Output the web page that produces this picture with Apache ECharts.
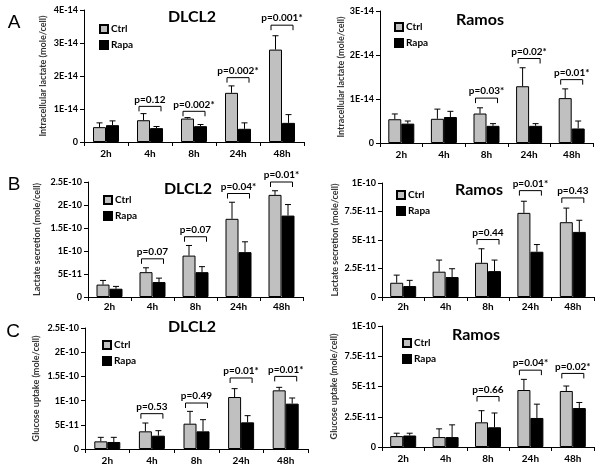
<!DOCTYPE html>
<html><head><meta charset="utf-8">
<script src="https://cdn.jsdelivr.net/npm/echarts@6/dist/echarts.min.js"></script>
<style>html,body{margin:0;padding:0;background:#fff}#c{width:601px;height:472px}</style>
</head><body><div id="c"></div>
<script>
const categories = ['2h','4h','8h','24h','48h'];

// A: intracellular lactate (unit 1E-14 mole/cell)
const dlcl2IntraCtrl = [0.45,0.66,0.71,1.49,2.80];
const dlcl2IntraCtrlSd = [0.13,0.20,0.03,0.21,0.42];
const dlcl2IntraRapa = [0.51,0.42,0.48,0.40,0.58];
const dlcl2IntraRapaSd = [0.13,0.05,0.05,0.18,0.25];
const dlcl2IntraP = [[1,1.08,'p=0.12'],[2,0.93,'p=0.002*'],[3,1.95,'p=0.002*'],[4,3.54,'p=0.001*']];
const ramosIntraCtrl = [0.54,0.55,0.67,1.29,1.02];
const ramosIntraCtrlSd = [0.12,0.22,0.13,0.42,0.21];
const ramosIntraRapa = [0.44,0.59,0.39,0.39,0.33];
const ramosIntraRapaSd = [0.06,0.13,0.05,0.05,0.17];
const ramosIntraP = [[2,1.02,'p=0.03*'],[3,1.92,'p=0.02*'],[4,1.44,'p=0.01*']];
const ticksIntraDLCL2 = ['0','1E-14','2E-14','3E-14','4E-14'];
const ticksIntraRamos = ['0','1E-14','2E-14','3E-14'];

// B: lactate secretion (unit 1E-11 mole/cell)
const dlcl2SecCtrl = [2.7,5.4,9.0,17.0,22.2];
const dlcl2SecCtrlSd = [0.9,0.95,2.2,3.6,0.9];
const dlcl2SecRapa = [1.8,3.25,5.4,9.75,17.7];
const dlcl2SecRapaSd = [0.5,0.85,1.2,2.25,2.4];
const dlcl2SecP = [[1,8.3,'p=0.07'],[2,13.1,'p=0.07'],[3,22.5,'p=0.04*'],[4,25.0,'p=0.01*']];
const ramosSecCtrl = [1.25,2.22,3.0,7.38,6.56];
const ramosSecCtrlSd = [0.67,1.02,1.23,1.02,1.24];
const ramosSecRapa = [0.96,1.75,2.27,3.97,5.71];
const ramosSecRapaSd = [0.5,0.73,0.97,0.63,1.02];
const ramosSecP = [[2,5.04,'p=0.44'],[3,9.33,'p=0.01*'],[4,8.69,'p=0.43']];
const ticksSecDLCL2 = ['0','5E-11','1E-10','1.5E-10','2E-10','2.5E-10'];
const ticksSecRamos = ['0','2.5E-11','5E-11','7.5E-11','1E-10'];

// C: glucose uptake (unit 1E-11 mole/cell)
const dlcl2GluCtrl = [1.58,3.65,5.23,10.74,12.12];
const dlcl2GluCtrlSd = [0.83,1.72,2.55,1.73,0.62];
const dlcl2GluRapa = [1.45,2.75,3.65,5.51,9.37];
const dlcl2GluRapaSd = [0.96,1.04,2.41,1.38,1.17];
const dlcl2GluP = [[1,7.3,'p=0.53'],[2,9.5,'p=0.49'],[3,14.67,'p=0.01*'],[4,15.0,'p=0.01*']];
const ramosGluCtrl = [0.9,0.82,2.04,4.71,4.63];
const ramosGluCtrlSd = [0.24,0.68,0.96,0.88,0.41];
const ramosGluRapa = [0.95,0.82,1.63,2.4,3.22];
const ramosGluRapaSd = [0.19,1.01,1.18,1.14,0.46];
const ramosGluP = [[2,4.17,'p=0.66'],[3,6.35,'p=0.04*'],[4,6.08,'p=0.02*']];
const ticksGluDLCL2 = ['0','5E-11','1E-10','1.5E-10','2E-10','2.5E-10'];
const ticksGluRamos = ['0','2.5E-11','5E-11','7.5E-11','1E-10'];

const FONT = 'Lato';
const BW = 13;

const panels = [
  {g:{left:84,top:10,width:220,height:132}, max:4, iv:1, ticks:ticksIntraDLCL2, yName:'Intracellular lactate (mole/cell)', gap:36, lm:7,
   ctrl:dlcl2IntraCtrl, ctrlSd:dlcl2IntraCtrlSd, rapa:dlcl2IntraRapa, rapaSd:dlcl2IntraRapaSd, p:dlcl2IntraP,
   title:'DLCL2', tx:192, ty:17, leg:[99,24], letter:'A', lx:14, ly:23},
  {g:{left:380,top:11,width:213,height:132}, max:3, iv:1, ticks:ticksIntraRamos, yName:'Intracellular lactate (mole/cell)', gap:33, lm:7,
   ctrl:ramosIntraCtrl, ctrlSd:ramosIntraCtrlSd, rapa:ramosIntraRapa, rapaSd:ramosIntraRapaSd, p:ramosIntraP,
   title:'Ramos', tx:480, ty:20, leg:[394,22]},
  {g:{left:88,top:182,width:215,height:115}, max:25, iv:5, ticks:ticksSecDLCL2, yName:'Lactate secretion (mole/cell)', gap:46, lm:5,
   ctrl:dlcl2SecCtrl, ctrlSd:dlcl2SecCtrlSd, rapa:dlcl2SecRapa, rapaSd:dlcl2SecRapaSd, p:dlcl2SecP,
   title:'DLCL2', tx:188, ty:189, leg:[103,195], letter:'B', lx:14, ly:185},
  {g:{left:382,top:183,width:212,height:114}, max:10, iv:2.5, ticks:ticksSecRamos, yName:'Lactate secretion (mole/cell)', gap:42, lm:5,
   ctrl:ramosSecCtrl, ctrlSd:ramosSecCtrlSd, rapa:ramosSecRapa, rapaSd:ramosSecRapaSd, p:ramosSecP,
   title:'Ramos', tx:479, ty:190, leg:[396,190]},
  {g:{left:85,top:328,width:223,height:121}, max:25, iv:5, ticks:ticksGluDLCL2, yName:'Glucose uptake (mole/cell)', gap:44, lm:7,
   ctrl:dlcl2GluCtrl, ctrlSd:dlcl2GluCtrlSd, rapa:dlcl2GluRapa, rapaSd:dlcl2GluRapaSd, p:dlcl2GluP,
   title:'DLCL2', tx:192, ty:327, leg:[102,340], letter:'C', lx:13, ly:332},
  {g:{left:382,top:326,width:212,height:121}, max:10, iv:2.5, ticks:ticksGluRamos, yName:'Glucose uptake (mole/cell)', gap:43, lm:7,
   ctrl:ramosGluCtrl, ctrlSd:ramosGluCtrlSd, rapa:ramosGluRapa, rapaSd:ramosGluRapaSd, p:ramosGluP,
   title:'Ramos', tx:476, ty:335, leg:[402,338]}
];

const option = {animation:false, backgroundColor:'#fff', grid:[], xAxis:[], yAxis:[], series:[], legend:[], graphic:[]};

function errRender(params, api){
  const i = api.value(0);
  const a = api.coord([i, api.value(1)]);
  const b = api.coord([i, api.value(2)]);
  const x = a[0] + api.value(3) * BW / 2;
  return {type:'group', children:[
    {type:'line', shape:{x1:x, y1:a[1], x2:x, y2:b[1]}, style:{stroke:'#000', lineWidth:1}},
    {type:'line', shape:{x1:x-3, y1:b[1], x2:x+3, y2:b[1]}, style:{stroke:'#000', lineWidth:1}}
  ]};
}

panels.forEach((P, k) => {
  option.grid.push(Object.assign({containLabel:false}, P.g));
  option.xAxis.push({type:'category', gridIndex:k, data:categories, boundaryGap:true,
    axisLine:{lineStyle:{color:'#000', width:1}},
    axisTick:{show:true, length:4, lineStyle:{color:'#000'}},
    axisLabel:{color:'#000', fontSize:10, fontWeight:'bold', fontFamily:FONT, margin:P.lm},
    splitLine:{show:false}});
  option.yAxis.push({type:'value', gridIndex:k, min:0, max:P.max, interval:P.iv,
    name:P.yName, nameLocation:'middle', nameGap:P.gap, nameRotate:90,
    nameTextStyle:{fontSize:9, fontWeight:'bold', fontFamily:FONT, color:'#333'},
    axisLine:{show:true, lineStyle:{color:'#000', width:1}},
    axisTick:{show:true, length:4, lineStyle:{color:'#000'}},
    axisLabel:{color:'#000', fontSize:9, fontWeight:'bold', fontFamily:FONT, margin:6,
      formatter:(v)=>P.ticks[Math.round(v/P.iv)]},
    splitLine:{show:false}});
  option.series.push({name:'Ctrl', type:'bar', xAxisIndex:k, yAxisIndex:k, data:P.ctrl, barWidth:BW, barGap:'0%',
    itemStyle:{color:'#c0c0c0', borderColor:'#000', borderWidth:1}});
  option.series.push({name:'Rapa', type:'bar', xAxisIndex:k, yAxisIndex:k, data:P.rapa, barWidth:BW, barGap:'0%',
    itemStyle:{color:'#000', borderColor:'#000', borderWidth:1}});
  option.series.push({name:'errCtrl'+k, type:'custom', xAxisIndex:k, yAxisIndex:k, silent:true, z:3,
    data:P.ctrl.map((v,i)=>[i, v, v+P.ctrlSd[i], -1]), renderItem:errRender});
  option.series.push({name:'errRapa'+k, type:'custom', xAxisIndex:k, yAxisIndex:k, silent:true, z:3,
    data:P.rapa.map((v,i)=>[i, v, v+P.rapaSd[i], 1]), renderItem:errRender});
  const br = P.p;
  option.series.push({name:'p'+k, type:'custom', xAxisIndex:k, yAxisIndex:k, silent:true, z:4, clip:false,
    data:br.map(d=>[d[0], d[1]]),
    renderItem:(params, api)=>{
      const c = api.coord([api.value(0), api.value(1)]);
      const lab = br[params.dataIndex][2];
      const x0 = c[0]-11, x1 = c[0]+11, y = c[1];
      return {type:'group', children:[
        {type:'polyline', shape:{points:[[x0,y+5],[x0,y],[x1,y],[x1,y+5]]}, style:{stroke:'#000', lineWidth:1, fill:null}},
        {type:'text', x:c[0], y:y-2, style:{text:lab, align:'center', verticalAlign:'bottom', fontSize:10, fontWeight:'bold', fontFamily:FONT, fill:'#000'}}
      ]};
    }});
  option.legend.push({data:['Ctrl','Rapa'], orient:'vertical', left:P.leg[0], top:P.leg[1], itemWidth:8, itemHeight:8, itemGap:6,
    icon:'rect', padding:0, selectedMode:false,
    textStyle:{fontSize:10, fontWeight:'bold', fontFamily:FONT, color:'#000', padding:[0,0,0,-2]}});
  option.graphic.push({type:'text', x:P.tx, y:P.ty, style:{text:P.title, align:'center', verticalAlign:'middle', fontSize:16, fontWeight:'bold', fontFamily:FONT, fill:'#000'}});
  if (P.letter) option.graphic.push({type:'text', x:P.lx, y:P.ly, style:{text:P.letter, align:'center', verticalAlign:'middle', fontSize:19, fontFamily:'Liberation Sans', fill:'#000'}});
});

const chart = echarts.init(document.getElementById('c'), null, {renderer:'canvas'});
chart.setOption(option);
</script>
</body></html>
